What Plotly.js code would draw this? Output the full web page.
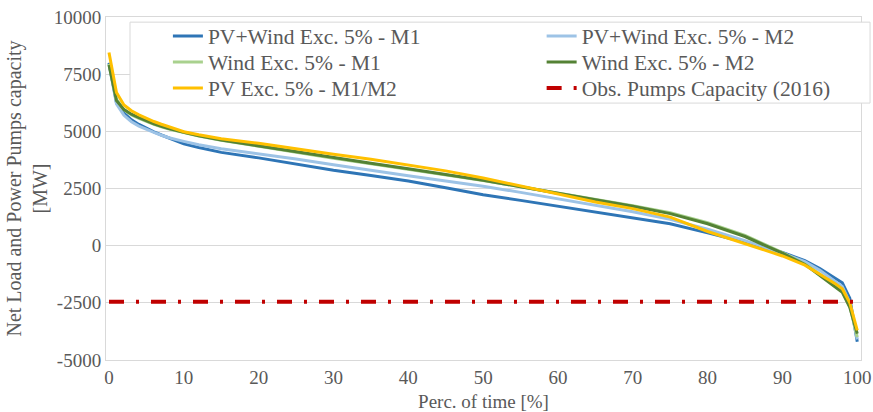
<!DOCTYPE html>
<html>
<head>
<meta charset="utf-8">
<script src="https://cdn.plot.ly/plotly-3.0.1.min.js"></script>
<style>html,body{margin:0;padding:0;background:#fff;}#chart{width:873px;height:412px;}</style>
</head>
<body>
<div id="chart"></div>
<script>
const percTime = [0,1,2,3,4,5,6,7,8,10,12,15,20,25,30,35,40,45,50,55,60,65,70,75,80,85,90,93,95,97,98,99,100];
const pvWindM1 = [8000,6250,5800,5500,5300,5130,4980,4840,4720,4450,4290,4080,3840,3560,3300,3070,2830,2530,2230,1980,1730,1470,1220,960,560,150,-300,-650,-1000,-1400,-1620,-2300,-4200];
const pvWindM2 = [7950,6200,5700,5420,5230,5080,4950,4830,4720,4560,4410,4240,4030,3790,3540,3290,3060,2830,2600,2330,2050,1780,1480,1150,720,220,-330,-700,-1080,-1550,-1780,-2500,-4100];
const windM1 = [7950,6400,5950,5720,5570,5430,5310,5200,5100,4950,4800,4610,4340,4080,3820,3580,3340,3100,2850,2580,2310,2030,1750,1440,1010,450,-300,-800,-1250,-1750,-2000,-2650,-4000];
const windM2 = [7900,6350,5950,5750,5600,5460,5330,5220,5120,4960,4810,4620,4360,4100,3840,3600,3360,3120,2860,2580,2300,2010,1720,1400,960,400,-330,-820,-1300,-1800,-2040,-2700,-3850];
const pvM1M2 = [8450,6700,6150,5900,5720,5560,5430,5310,5200,4980,4850,4680,4480,4230,4000,3780,3540,3270,2960,2620,2270,1910,1620,1250,620,100,-450,-850,-1240,-1650,-1890,-2500,-3700];
const pumpsX = [0,100];
const pumpsY = [-2450,-2450];
const seriesNames = ["PV+Wind Exc. 5% - M1","PV+Wind Exc. 5% - M2","Wind Exc. 5% - M1","Wind Exc. 5% - M2","PV Exc. 5% - M1/M2","Obs. Pumps Capacity (2016)"];
const yTicks = [-5000,-2500,0,2500,5000,7500,10000];
const xTicks = [0,10,20,30,40,50,60,70,80,90,100];

const fontFam = "Liberation Serif";
const txt = "#595959";
function line(y, name, color, lg){
  return {x: percTime, y: y, name: name, type: "scatter", mode: "lines", legend: lg,
          line: {color: color, width: 3}, hoverinfo: "skip"};
}
const data = [
  line(pvWindM1, seriesNames[0], "#2E75B6", "legend"),
  line(pvWindM2, seriesNames[1], "#9DC3E6", "legend2"),
  line(windM1, seriesNames[2], "#A9D18E", "legend3"),
  line(windM2, seriesNames[3], "#548235", "legend4"),
  line(pvM1M2, seriesNames[4], "#FFC000", "legend5"),
  {x: pumpsX, y: pumpsY, name: seriesNames[5], type: "scatter", mode: "lines", legend: "legend6",
   line: {color: "#C00000", width: 4, dash: "15px,12px,3px,12px"}, hoverinfo: "skip"}
];
const legFont = {family: fontFam, color: txt, size: 21.5};
function leg(x, yc){
  return {orientation: "v", x: x, xanchor: "left", y: (360 - yc) / 343, yanchor: "middle",
          bgcolor: "rgba(0,0,0,0)", borderwidth: 0, font: legFont};
}
const layout = {
  width: 873, height: 412,
  margin: {l: 106, r: 12, t: 17, b: 52},
  paper_bgcolor: "#fff", plot_bgcolor: "#fff",
  font: {family: fontFam, color: txt, size: 19},
  showlegend: true,
  legend: leg(0.082, 36), legend2: leg(0.577, 36),
  legend3: leg(0.082, 62), legend4: leg(0.577, 62),
  legend5: leg(0.082, 88), legend6: leg(0.577, 88),
  xaxis: {range: [-0.4, 100.5], tickvals: xTicks, ticktext: xTicks.map(String), showgrid: false,
          zeroline: false, showline: true, mirror: true, linecolor: "#D9D9D9", linewidth: 1,
          ticks: "", tickfont: {size: 19, color: txt, family: fontFam},
          title: {text: "Perc. of time [%]", font: {size: 19, color: txt, family: fontFam}, standoff: 8}},
  yaxis: {range: [-5000, 10000], tickvals: yTicks, ticktext: yTicks.map(String), showgrid: true,
          gridcolor: "#D9D9D9", gridwidth: 1, zeroline: false, showline: true, mirror: true,
          linecolor: "#D9D9D9", linewidth: 1, ticks: "", ticklen: 0,
          tickfont: {size: 19, color: txt, family: fontFam},
          title: {text: "Net Load and Power Pumps capacity<br>[MW]", font: {size: 20, color: txt, family: fontFam}, standoff: 0}},
  shapes: [{type: "rect", xref: "paper", yref: "paper", x0: 0.0318, x1: 1.012, y0: 0.749, y1: 0.985,
            fillcolor: "#fff", line: {color: "#D9D9D9", width: 1}, layer: "above"}]
};
Plotly.newPlot("chart", data, layout, {displayModeBar: false, staticPlot: true});
</script>
</body>
</html>
